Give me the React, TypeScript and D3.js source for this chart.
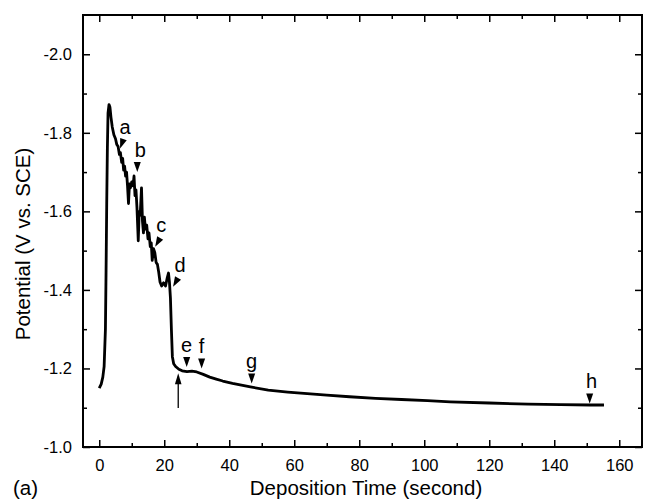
import React, { useEffect, useRef } from "react";
import * as d3 from "d3";

// deposition curve
const timeSec = [
  0, 0.6, 1.1, 1.5, 1.9, 2.1, 2.3, 2.5, 2.7, 3.0, 3.3, 3.6, 4.0, 4.5, 5.0, 5.4, 5.8, 6.2, 6.5, 6.9,
  7.2, 7.5, 7.8, 8.1, 8.4, 8.7, 9.0, 9.3, 9.6, 10.0, 10.4, 10.7, 11.0, 11.3, 11.6, 12.0, 12.3, 12.6,
  13.0, 13.3, 13.6, 13.9, 14.2, 14.6, 15.0, 15.3, 15.7, 16.0, 16.3, 16.7, 17.1, 17.5, 17.9, 18.3,
  18.7, 19.2, 19.8, 20.4, 20.9, 21.3, 21.6, 21.9, 22.2, 22.5, 22.9, 23.5, 24.5, 25.5, 27.0, 28.5,
  30.0, 32.0, 34.0, 36.0, 38.0, 41.0, 46.5, 52.0, 58.0, 62.0, 70.0, 77.0, 85.0, 93.0, 101.0, 108.0,
  120.0, 132.0, 142.0, 151.0, 155.3,
];
const potential = [
  -1.15, -1.16, -1.178, -1.205, -1.3, -1.45, -1.62, -1.76, -1.85, -1.872, -1.865, -1.84, -1.815,
  -1.795, -1.785, -1.77, -1.765, -1.745, -1.75, -1.725, -1.735, -1.705, -1.715, -1.69, -1.7, -1.665,
  -1.62, -1.67, -1.66, -1.675, -1.665, -1.69, -1.64, -1.655, -1.61, -1.525, -1.6, -1.59, -1.66,
  -1.575, -1.545, -1.585, -1.555, -1.565, -1.53, -1.545, -1.51, -1.52, -1.475, -1.505, -1.495,
  -1.47, -1.465, -1.445, -1.42, -1.41, -1.418, -1.41, -1.43, -1.443, -1.42, -1.38, -1.3, -1.23,
  -1.212, -1.205, -1.198, -1.194, -1.192, -1.193, -1.191, -1.185, -1.178, -1.173, -1.168, -1.162,
  -1.153, -1.145, -1.14, -1.137, -1.132, -1.128, -1.124, -1.121, -1.118, -1.115, -1.112, -1.109,
  -1.108, -1.107, -1.107,
];

// labelled triangles (where each tip points)
const markerLabels = ["a", "b", "c", "d", "e", "f", "g", "h"];
const markerTime = [6.4, 11.7, 17.2, 22.7, 26.9, 31.5, 46.9, 150.9];
const markerPotential = [-1.76, -1.7, -1.51, -1.408, -1.204, -1.2, -1.162, -1.111];

// the upward arrow under the curve
const arrowTime = 24.3;
const arrowFrom = -1.099;
const arrowTo = -1.188;

const xMajorTicks = [0, 20, 40, 60, 80, 100, 120, 140, 160];
const xMinorTicks = [10, 30, 50, 70, 90, 110, 130, 150];
const yMajorTicks = [-2.0, -1.8, -1.6, -1.4, -1.2, -1.0];
const yMinorTicks = [-1.9, -1.7, -1.5, -1.3, -1.1];

const markerTilt = [20, 0, 30, 30, 0, 0, 0, 0];
const markerDx = [5, 3, 6, 7, 0, 0, 0, 2];

export default function App() {
  const ref = useRef<SVGSVGElement>(null);

  useEffect(() => {
    const svg = d3.select(ref.current);
    svg.selectAll("*").remove();
    const font = "'Liberation Sans', Arial, sans-serif";
    const left = 83, right = 642, top = 15, bottom = 447;

    const x = d3.scaleLinear().domain([-5, 167]).range([left, right]);
    const y = d3.scaleLinear().domain([-2.1, -1.0]).range([top, bottom]);

    const addAxis = (gen: any, tx: number, ty: number) =>
      svg
        .append("g")
        .attr("transform", `translate(${tx},${ty})`)
        .call(gen)
        .call((g: any) => g.select(".domain").remove())
        .attr("font-family", font)
        .attr("font-size", 16.5)
        .call((g: any) => g.selectAll(".tick line").attr("stroke", "#000").attr("stroke-width", 1.5))
        .call((g: any) => g.selectAll(".tick text").attr("fill", "#000"));

    // bottom
    addAxis(d3.axisBottom(x).tickValues(xMajorTicks).tickSize(-7).tickPadding(12).tickFormat((d: any) => String(d)), 0, bottom);
    addAxis(d3.axisBottom(x).tickValues(xMinorTicks).tickSize(-4).tickFormat(() => ""), 0, bottom);
    // top
    addAxis(d3.axisTop(x).tickValues(xMajorTicks).tickSize(-7).tickFormat(() => ""), 0, top);
    addAxis(d3.axisTop(x).tickValues(xMinorTicks).tickSize(-4).tickFormat(() => ""), 0, top);
    // left
    addAxis(d3.axisLeft(y).tickValues(yMajorTicks).tickSize(-7).tickPadding(11).tickFormat((d: any) => d.toFixed(1)), left, 0);
    addAxis(d3.axisLeft(y).tickValues(yMinorTicks).tickSize(-4).tickFormat(() => ""), left, 0);
    // right
    addAxis(d3.axisRight(y).tickValues(yMajorTicks).tickSize(-7).tickFormat(() => ""), right, 0);
    addAxis(d3.axisRight(y).tickValues(yMinorTicks).tickSize(-4).tickFormat(() => ""), right, 0);

    svg
      .append("rect")
      .attr("x", left)
      .attr("y", top)
      .attr("width", right - left)
      .attr("height", bottom - top)
      .attr("fill", "none")
      .attr("stroke", "#000")
      .attr("stroke-width", 2);

    const line = d3
      .line<number>()
      .x((d, i) => x(timeSec[i]))
      .y((d) => y(d));

    svg
      .append("path")
      .attr("d", line(potential))
      .attr("fill", "none")
      .attr("stroke", "#000")
      .attr("stroke-width", 2.8)
      .attr("stroke-linejoin", "round");

    // markers
    markerLabels.forEach((lab, i) => {
      const px = x(markerTime[i]);
      const py = y(markerPotential[i]);
      svg
        .append("path")
        .attr("d", "M0,0L-3.5,-10L3.5,-10Z")
        .attr("transform", `translate(${px},${py}) rotate(${markerTilt[i]})`)
        .attr("fill", "#000");
      svg
        .append("text")
        .attr("x", px + markerDx[i])
        .attr("y", py - 15)
        .attr("text-anchor", "middle")
        .attr("font-family", font)
        .attr("font-size", 20)
        .text(lab);
    });

    // arrow
    const ax = x(arrowTime);
    svg
      .append("line")
      .attr("x1", ax)
      .attr("x2", ax)
      .attr("y1", y(arrowFrom))
      .attr("y2", y(arrowTo) + 9)
      .attr("stroke", "#000")
      .attr("stroke-width", 1.3);
    svg
      .append("path")
      .attr("d", `M${ax},${y(arrowTo)}L${ax - 3.3},${y(arrowTo) + 11}L${ax + 3.3},${y(arrowTo) + 11}Z`)
      .attr("fill", "#000");

    // titles
    svg
      .append("text")
      .attr("x", 366)
      .attr("y", 495)
      .attr("text-anchor", "middle")
      .attr("font-family", font)
      .attr("font-size", 20.5)
      .text("Deposition Time (second)");
    svg
      .append("text")
      .attr("transform", "translate(30,244) rotate(-90)")
      .attr("text-anchor", "middle")
      .attr("font-family", font)
      .attr("font-size", 20.5)
      .text("Potential (V vs. SCE)");
    svg
      .append("text")
      .attr("x", 13)
      .attr("y", 495)
      .attr("font-family", font)
      .attr("font-size", 20.5)
      .text("(a)");
  }, []);

  return (
    <svg
      ref={ref}
      width={652}
      height={500}
      style={{ position: "absolute", left: 0, top: 0, display: "block", background: "#fff" }}
    />
  );
}
